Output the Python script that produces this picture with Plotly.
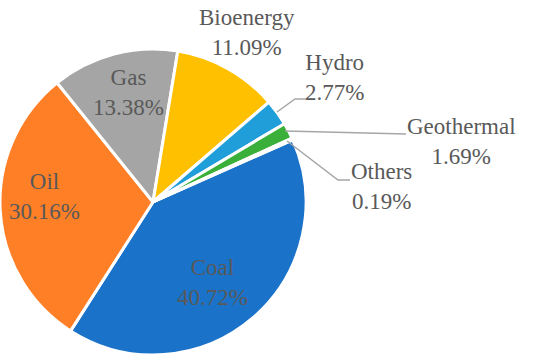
import plotly.graph_objects as go

labels = ["Coal", "Oil", "Gas", "Bioenergy", "Hydro", "Geothermal", "Others"]
values = [40.72, 30.16, 13.38, 11.09, 2.77, 1.69, 0.19]
colors = ["#1A72C9", "#FF7F27", "#A5A5A5", "#FFC000", "#1F9ED9", "#3AB03A", "#264478"]

W, H = 550, 364
# label centre positions in pixels (layout only)
label_pos = {
    "Coal": (212, 282), "Oil": (44, 196), "Gas": (128, 92),
    "Bioenergy": (247, 32), "Hydro": (334, 77), "Geothermal": (461, 142),
    "Others": (381, 187),
}
# leader lines in pixels
leaders = [
    [(277, 112), (295, 99), (306, 99)],
    [(285, 131), (406, 134)],
    [(287, 141), (338, 180), (350, 180)],
]

def px(x, y):
    return x / W, 1 - y / H

cx, cy, r = 153, 202, 153
fig = go.Figure(go.Pie(
    labels=labels, values=values, sort=False, direction="clockwise",
    rotation=66, textinfo="none", hoverinfo="label+percent",
    marker=dict(colors=colors, line=dict(color="white", width=3)),
    domain=dict(x=[max(0, (cx - r) / W), (cx + r) / W],
                y=[1 - (cy + r) / H, 1 - (cy - r) / H]),
    showlegend=False,
))

for lab, val in zip(labels, values):
    x, y = px(*label_pos[lab])
    fig.add_annotation(x=x, y=y, xref="paper", yref="paper",
                       text=f"{lab}<br>{val:.2f}%", showarrow=False,
                       xanchor="center", yanchor="middle", align="center",
                       font=dict(family="Liberation Serif", size=23, color="#595959"))

for pts in leaders:
    path = ""
    for i, (x, y) in enumerate(pts):
        X, Y = px(x, y)
        path += ("M" if i == 0 else " L") + f" {X} {Y}"
    fig.add_shape(type="path", path=path, xref="paper", yref="paper",
                  line=dict(color="#A6A6A6", width=1.5))

fig.update_layout(width=W, height=H, margin=dict(l=0, r=0, t=0, b=0),
                  paper_bgcolor="white", plot_bgcolor="white")
fig.write_html("out.html", config={"displayModeBar": False},
               post_script="document.body.style.margin='0';")
